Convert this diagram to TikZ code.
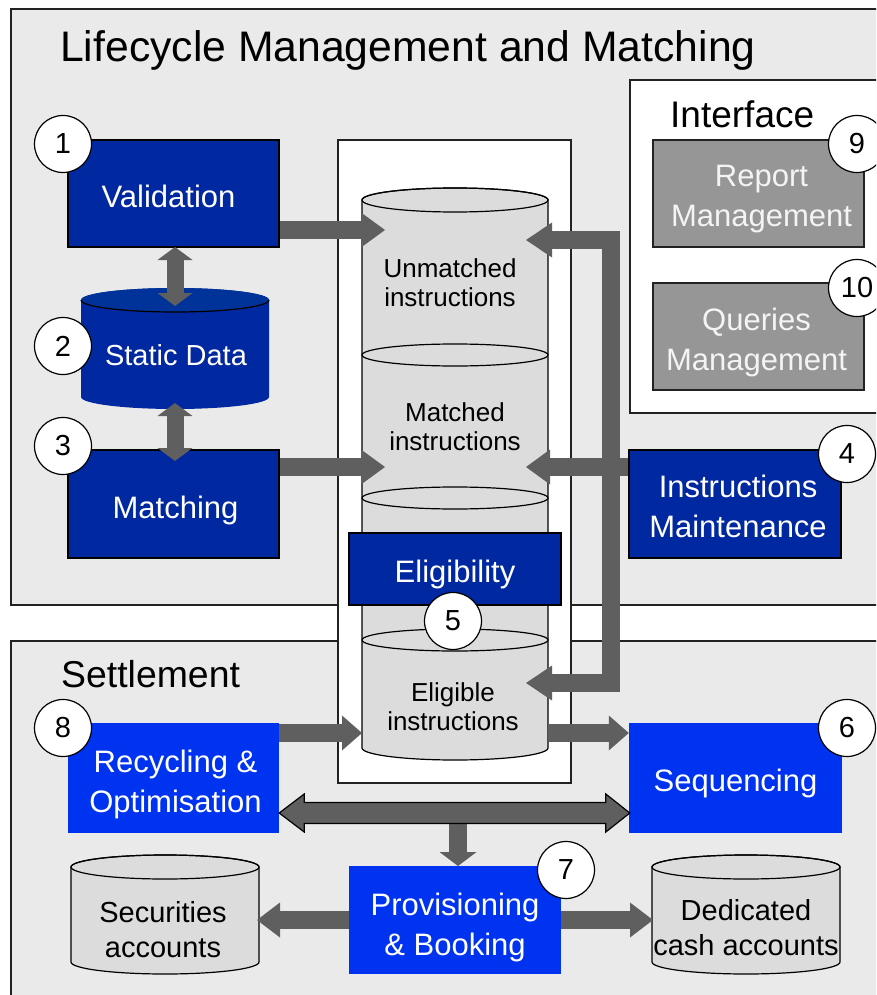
\documentclass[tikz,border=0pt]{standalone}
\usepackage{fontspec}
\setmainfont{Liberation Sans}
\usetikzlibrary{arrows.meta,calc}
\definecolor{panel}{HTML}{EAEAEA}
\definecolor{cylgray}{HTML}{DCDCDC}
\definecolor{arrgray}{HTML}{5F5F5F}
\definecolor{dkblue}{HTML}{0028A0}
\definecolor{sdtop}{HTML}{003399}
\definecolor{brblue}{HTML}{0033F0}
\definecolor{boxgray}{HTML}{969696}
\definecolor{gtext}{HTML}{F4F4F4}
\definecolor{edge}{HTML}{222222}
\tikzset{
  panelbox/.style={fill=panel, draw=edge, line width=1.2pt},
  whitebox/.style={fill=white, draw=edge, line width=1.2pt},
  dbox/.style={rectangle, fill=dkblue, draw=black, line width=1.2pt, inner sep=0pt},
  bbox/.style={rectangle, fill=brblue, draw=none, inner sep=0pt},
  gbox/.style={rectangle, fill=boxgray, draw=edge, line width=1.2pt, inner sep=0pt},
  boxtext/.style={text=white, align=center, inner sep=0pt, font=\fontsize{31}{40}\selectfont},
  gboxtext/.style={boxtext, text=gtext},
  num/.style={circle, fill=white, draw=black, line width=1.2pt, minimum size=57pt, inner sep=0pt, font=\fontsize{29}{29}\selectfont},
  cyltext/.style={align=center, inner sep=0pt, font=\fontsize{26}{29}\selectfont},
  acctext/.style={align=center, inner sep=0pt, font=\fontsize{29}{35}\selectfont},
  garrow/.style={draw=arrgray, line width=18pt, line join=miter, -{Triangle[width=35pt,length=24pt,line width=0pt]}},
  gdarrow/.style={draw=arrgray, line width=17pt, {Triangle[width=35pt,length=13pt,line width=0pt]}-{Triangle[width=35pt,length=13pt,line width=0pt]}},
  gbarrow/.style={draw=arrgray, line width=18pt, line join=miter, {Triangle[width=35pt,length=26pt,line width=0pt]}-{Triangle[width=35pt,length=26pt,line width=0pt]}},
  cylline/.style={draw=black, line width=1.2pt},
}
\newcommand{\drawcyl}[6]{% cx, rx, ytop, ybot, ry, fill
  \filldraw[fill=#6, cylline] (#1-#2,#3) -- (#1-#2,#4) arc[start angle=180,end angle=360,x radius=#2pt,y radius=#5pt] -- (#1+#2,#3) arc[start angle=0,end angle=180,x radius=#2pt,y radius=#5pt] -- cycle;
  \draw[cylline] (#1,#3) ellipse[x radius=#2pt, y radius=#5pt];
}
\begin{document}
\begin{tikzpicture}[x=1pt,y=-1pt]
\useasboundingbox (0,0) rectangle (876,995);
\clip (0,0) rectangle (876,995);
\fill[white] (0,0) rectangle (876,995);

% panels
\path[panelbox] (11,9) rectangle (890,605);
\path[panelbox] (11,641) rectangle (890,1005);
\path[whitebox] (630,80) rectangle (890,413);
\path[whitebox] (338,140) rectangle (571,783);

\node[anchor=base west, inner sep=0pt, font=\fontsize{42.7}{50}\selectfont] (title) at (60,62) {Lifecycle Management and Matching};
\node[anchor=base west, inner sep=0pt, font=\fontsize{37}{44}\selectfont] (iface) at (670,128) {Interface};
\node[anchor=base west, inner sep=0pt, font=\fontsize{37.4}{44}\selectfont] (settle) at (61,687) {Settlement};

% big instructions cylinder
\drawcyl{455}{93}{200}{748}{12}{cylgray}
\foreach \yy in {355,498,640} {
  \filldraw[fill=cylgray, cylline] (455,\yy) ellipse[x radius=93pt, y radius=11pt];
}
\node[cyltext] (tu) at (450,283) {Unmatched\\instructions};
\node[cyltext] (tm) at (455,427) {Matched\\instructions};
\node[cyltext] (te) at (453,707) {Eligible\\instructions};

% static data cylinder
\fill[dkblue] (81,300) -- (81,397) arc[start angle=180,end angle=360,x radius=94pt,y radius=12pt] -- (269,300) arc[start angle=0,end angle=180,x radius=94pt,y radius=12pt] -- cycle;
\fill[sdtop] (175,300) ellipse[x radius=94pt, y radius=12pt];
\draw[cylline] (81,300) arc[start angle=180,end angle=360,x radius=94pt,y radius=12pt];
\node[acctext, text=white] (sd) at (176,355) {Static Data};

% account cylinders
\drawcyl{165}{94}{867}{962}{12}{cylgray}
\drawcyl{746}{94}{867}{962}{12}{cylgray}
\node[acctext] (sec) at (163,930) {Securities\\accounts};
\node[acctext] (cash) at (746,928) {Dedicated\\cash accounts};

% boxes
\node[dbox, minimum width=211pt, minimum height=107pt] (val) at (173.5,193.5) {};
\node[dbox, minimum width=211pt, minimum height=108pt] (mat) at (173.5,504) {};
\node[dbox, minimum width=212pt, minimum height=108pt] (im) at (735,504) {};
\node[gbox, minimum width=211pt, minimum height=107pt] (rep) at (758.5,193.5) {};
\node[gbox, minimum width=211pt, minimum height=107pt] (qry) at (758.5,336.5) {};
\node[bbox, minimum width=211pt, minimum height=110pt] (rec) at (173.5,778) {};
\node[bbox, minimum width=213pt, minimum height=110pt] (seq) at (735.5,778) {};
\node[bbox, minimum width=212pt, minimum height=108pt] (prov) at (455,920) {};

\node[boxtext] (valt) at ([xshift=-5pt,yshift=-3pt]val.center) {Validation};
\node[boxtext] (matt) at ([xshift=2pt,yshift=-6pt]mat.center) {Matching};
\node[boxtext] (imt) at ([xshift=3pt,yshift=-2pt]im.center) {Instructions\\Maintenance};
\node[gboxtext] (rept) at ([xshift=3pt,yshift=-6pt]rep.center) {Report\\Management};
\node[gboxtext] (qryt) at ([xshift=-2pt,yshift=-6pt]qry.center) {Queries\\Management};
\node[boxtext] (rect) at ([xshift=2pt,yshift=-6pt]rec.center) {Recycling \&\\Optimisation};
\node[boxtext] (seqt) at ([yshift=-5pt]seq.center) {Sequencing};
\node[boxtext] (provt) at ([yshift=-7pt]prov.center) {Provisioning\\\& Booking};

% connector end points
\coordinate (ua) at (385,230);
\coordinate (ma) at (385,467);
\coordinate (mb) at (526,467);
\coordinate (ut) at (526,240);
\coordinate (bk1) at (611,240);
\coordinate (bk2) at (611,683);
\coordinate (et) at (526,683);
\coordinate (ea) at (362,733);
\coordinate (eo) at (548,733);
\coordinate (sdt) at (175,306);
\coordinate (sdb) at (175,403);
\coordinate (vb) at (175,247);
\coordinate (mt) at (175,461);
\coordinate (sa) at (257,920);
\coordinate (ca) at (653,920);
\coordinate (dtop) at (458,822);
\coordinate (dbot) at (458,866);

% arrows
\draw[garrow] (val.east |- ua) -- (ua);
\draw[garrow] (mat.east |- ma) -- (ma);
\draw[gbarrow] (ut) -- (bk1) -- (bk2) -- (et);
\draw[garrow] (im.west |- mb) -- (mb);
\draw[gdarrow] (vb) -- (sdt);
\draw[gdarrow] (sdb) -- (mt);
\draw[garrow, -{Triangle[width=35pt,length=20pt,line width=0pt]}] (rec.east |- ea) -- (ea);
\draw[garrow, -{Triangle[width=35pt,length=20pt,line width=0pt]}] (eo) -- (seq.west |- eo);
\draw[garrow, -{Triangle[width=35pt,length=23pt,line width=0pt]}] (prov.west) -- (sa);
\draw[garrow, -{Triangle[width=35pt,length=23pt,line width=0pt]}] (prov.east) -- (ca);
\draw[draw=arrgray, line width=18pt, -{Triangle[width=37pt,length=14pt,line width=0pt]}] (dtop) -- (dbot);
\coordinate (dl) at ($(rec.east)+(0,35)$);
\coordinate (dr) at ($(seq.west)+(1,35)$);
\filldraw[fill=arrgray, draw=black, line width=1.2pt, line join=miter]
  (dl) -- ++(25,-19) -- ++(0,8.5) -- ($(dr)+(-24,-10.5)$) -- ++(0,-8.5) -- (dr)
  -- ++(-24,19) -- ++(0,-8.5) -- ($(dl)+(25,10.5)$) -- ++(0,8.5) -- cycle;

% eligibility box (on top of the cylinder)
\node[dbox, minimum width=212pt, minimum height=72pt] (elig) at (455,569) {};
\node[boxtext] (eligt) at ([yshift=-5pt]elig.center) {Eligibility};

% number circles
\node[num] (n1) at (63,144) {1};
\node[num] (n2) at (63,346) {2};
\node[num] (n3) at (63,446) {3};
\node[num] (n4) at (847,454) {4};
\node[num] (n5) at (453,621) {5};
\node[num] (n6) at (847,728) {6};
\node[num] (n7) at (566,870) {7};
\node[num] (n8) at (63,728) {8};
\node[num] (n9) at (857,144) {9};
\node[num] (n10) at (857,288) {10};
\end{tikzpicture}
\end{document}
